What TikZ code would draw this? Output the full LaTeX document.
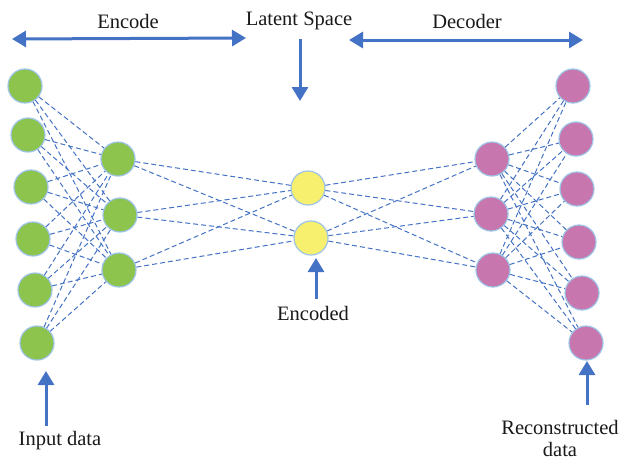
\documentclass[tikz,border=0pt]{standalone}
\usepackage{fontspec}
\setmainfont{Liberation Serif}
\usetikzlibrary{arrows.meta}
\definecolor{lineblue}{HTML}{4472C4}
\definecolor{ringblue}{HTML}{9DC3E6}
\definecolor{ngreen}{HTML}{8CC44D}
\definecolor{npink}{HTML}{C876AE}
\definecolor{nyellow}{HTML}{F6F06E}
\tikzset{
  neuron/.style={circle,minimum size=34pt,inner sep=0pt,draw=ringblue,line width=1.2pt},
  gnode/.style={neuron,fill=ngreen},
  pnode/.style={neuron,fill=npink},
  ynode/.style={neuron,fill=nyellow},
  link/.style={draw=lineblue,dash pattern=on 5pt off 3pt,line width=1pt},
  bigarrow/.style={draw=lineblue,line width=3pt,-{Triangle[length=14pt,width=16pt]}},
  dblarrow/.style={draw=lineblue,line width=3pt,{Triangle[length=14pt,width=16pt]}-{Triangle[length=14pt,width=16pt]}},
  lbl/.style={font=\fontsize{20.5}{23}\selectfont,text=black!90,inner sep=0pt}
}
\begin{document}
\begin{tikzpicture}[x=1pt,y=-1pt]
\useasboundingbox (0,0) rectangle (622,459);
% input
\node[gnode] (i1) at (25,86) {};
\node[gnode] (i2) at (28,135) {};
\node[gnode] (i3) at (31,187) {};
\node[gnode] (i4) at (33,239) {};
\node[gnode] (i5) at (35,290) {};
\node[gnode] (i6) at (37,343) {};
% hidden left
\node[gnode] (h1) at (118,159) {};
\node[gnode] (h2) at (120,215) {};
\node[gnode] (h3) at (119,270) {};
% latent
\node[ynode] (z1) at (308,188) {};
\node[ynode] (z2) at (311,238) {};
% hidden right
\node[pnode] (g1) at (492,159) {};
\node[pnode] (g2) at (491,214) {};
\node[pnode] (g3) at (493,270) {};
% output
\node[pnode] (o1) at (573,86) {};
\node[pnode] (o2) at (576,139) {};
\node[pnode] (o3) at (577,189) {};
\node[pnode] (o4) at (579,242) {};
\node[pnode] (o5) at (582,293) {};
\node[pnode] (o6) at (586,343) {};
% links
\foreach \a in {i1,i2,i3,i4,i5,i6}{\foreach \b in {h1,h2,h3}{\path[link] (\a) -- (\b);}}
\foreach \a in {h1,h2,h3}{\foreach \b in {z1,z2}{\path[link] (\a) -- (\b);}}
\foreach \a in {z1,z2}{\foreach \b in {g1,g2,g3}{\path[link] (\a) -- (\b);}}
\foreach \a in {g1,g2,g3}{\foreach \b in {o1,o2,o3,o4,o5,o6}{\path[link] (\a) -- (\b);}}
% top labels and arrows
\node[lbl] (tEnc) at (128,21) {Encode};
\node[lbl] (tLat) at (299,21) {Latent Space};
\node[lbl] (tDec) at (467,21) {Decoder};
\coordinate (e1) at (12,39);
\coordinate (e2) at (246,38);
\draw[dblarrow] (e1) -- (e2);
\coordinate (d1) at (349,40);
\coordinate (d2) at (583,40);
\draw[dblarrow] (d1) -- (d2);
\coordinate (ls1) at (300,39);
\coordinate (ls2) at (300,101);
\draw[bigarrow] (ls1) -- (ls2);
% bottom labels
\node[lbl] (tEncd) at (313,313) {Encoded};
\coordinate (en1) at (316,299);
\coordinate (en2) at (316,258);
\draw[bigarrow] (en1) -- (en2);
\node[lbl] (tIn) at (60,441) {Input data};
\coordinate (in1) at (46,426);
\coordinate (in2) at (46,371);
\draw[bigarrow] (in1) -- (in2);
\node[lbl,anchor=base] (tRec) at (560,434) {Reconstructed};
\node[lbl,anchor=base] (tRec2) at (560,456) {data};
\coordinate (r1) at (587,405);
\coordinate (r2) at (587,361);
\draw[bigarrow] (r1) -- (r2);
\end{tikzpicture}
\end{document}
